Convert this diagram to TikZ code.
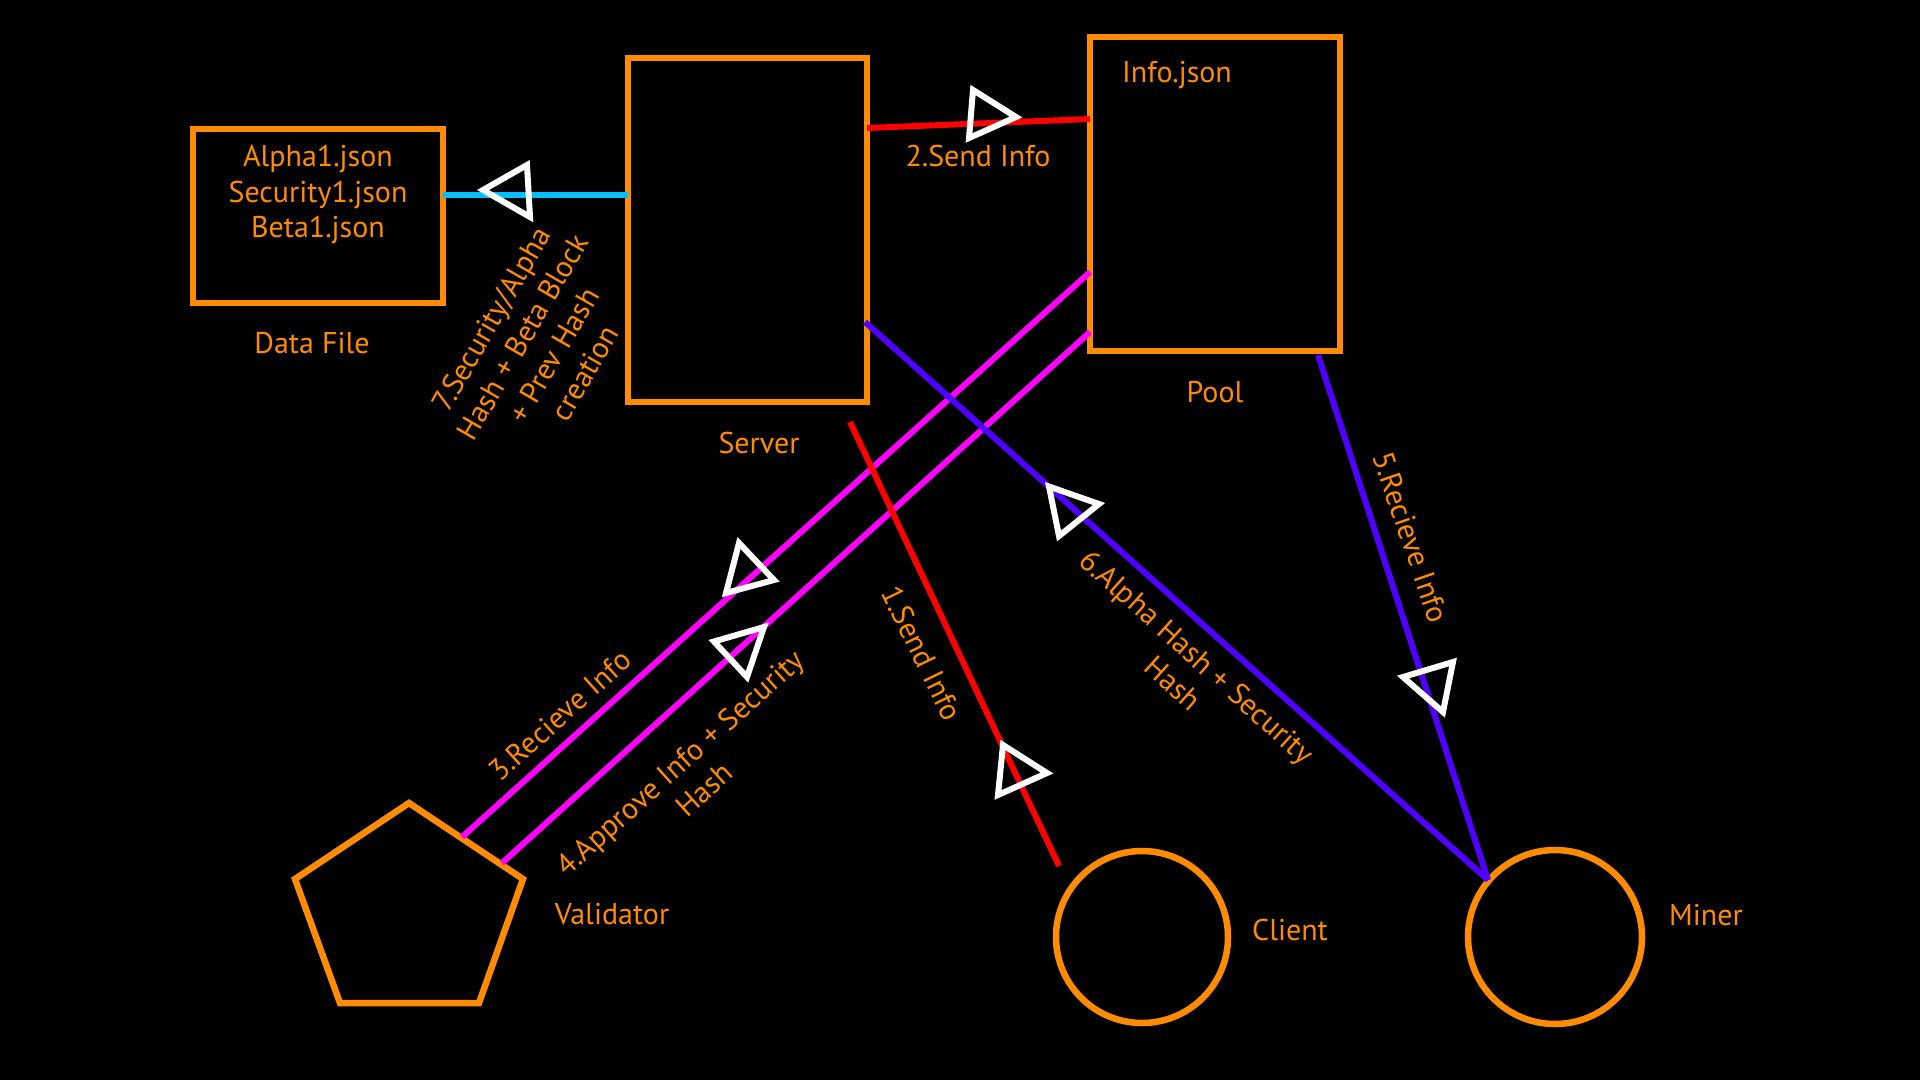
\documentclass[tikz,border=0pt]{standalone}
\usepackage{fontspec}
\setmainfont{PT Sans}
\usetikzlibrary{calc}
\definecolor{ornge}{HTML}{FF8C00}
\definecolor{vblue}{HTML}{5000FF}
\definecolor{mgnta}{HTML}{FF00FF}
\definecolor{cyn}{HTML}{00BFFF}
\definecolor{rd}{HTML}{FF0000}
\begin{document}
\begin{tikzpicture}[x=1pt,y=-1pt,
  shapebox/.style={draw=ornge, line width=6.5pt, fill=none, inner sep=0pt, outer sep=0pt},
  lbl/.style={text=ornge, font=\fontsize{30}{36}\selectfont, inner sep=0pt},
  conn/.style={line width=6pt},
  tri/.style={draw=white, line width=6pt, line join=miter}]
\useasboundingbox (0,0) rectangle (1920,1080);
\fill[black] (0,0) rectangle (1920,1080);

% shapes
\node[shapebox, rectangle, minimum width=250pt, minimum height=174pt] (data) at (318,216) {};
\node[shapebox, rectangle, minimum width=239pt, minimum height=344pt] (server) at (747.5,230) {};
\node[shapebox, rectangle, minimum width=250pt, minimum height=314pt] (pool) at (1215,194) {};
\node[shapebox, circle, minimum size=172pt] (client) at (1142,937) {};
\node[shapebox, circle, minimum size=174pt] (miner) at (1555,937) {};
\coordinate (validator) at (409,913);
\draw[draw=ornge, line width=6.5pt, line join=miter] (409,803) -- (523,879) -- (479,1003) -- (340,1003) -- (295,879) -- cycle;

% connector end points
\coordinate (dataE) at (443,195);
\coordinate (serverW) at (628,195);
\coordinate (serverE1) at (867,128);
\coordinate (poolW1) at (1090,119);
\coordinate (poolW2) at (1090,272);
\coordinate (valA) at (462,837);
\coordinate (poolW3) at (1090,332);
\coordinate (valB) at (502,863);
\coordinate (srvBot) at (850,422);
\coordinate (cliEnd) at (1059,866);
\coordinate (serverE2) at (865,322);
\coordinate (minerTop) at (1488,880);
\coordinate (poolS) at (1318,355);

% connectors
\draw[conn, mgnta] (poolW2) -- (valA);
\draw[conn, mgnta] (poolW3) -- (valB);
\draw[conn, rd] (serverE1) -- (poolW1);
\draw[conn, rd] (srvBot) -- (cliEnd);
\draw[conn, vblue] (serverE2) -- (minerTop);
\draw[conn, vblue] (poolS) -- (minerTop);
\draw[conn, cyn] (dataE) -- (serverW);

% open triangle markers
\draw[tri] (483,190) -- (527,165) -- (530,217) -- cycle;
\draw[tri] (973,90) -- (1016,117) -- (969,138) -- cycle;
\draw[tri] (739,543) -- (774,580) -- (726,593) -- cycle;
\draw[tri] (714,641.5) -- (764,627) -- (747,677) -- cycle;
\draw[tri] (1003,745) -- (1047,773) -- (998,795) -- cycle;
\draw[tri] (1049,486.5) -- (1099,504) -- (1059,536) -- cycle;
\draw[tri] (1403,677) -- (1453,662) -- (1443,712) -- cycle;

% labels
\node[lbl, anchor=base] (dfl1) at (318,166) {Alpha1.json};
\node[lbl, anchor=base] (dfl2) at (318,202) {Security1.json};
\node[lbl, anchor=base] (dfl3) at (318,237) {Beta1.json};
\node[lbl, anchor=base] (datal) at (312,353) {Data File};
\node[lbl, anchor=base] (serverl) at (759,453) {Server};
\node[lbl, anchor=base west] (infol) at (1122,82) {Info.json};
\node[lbl, anchor=base] (sendl2) at (978,166) {2.Send Info};
\node[lbl, anchor=base] (pooll) at (1215,402) {Pool};
\node[lbl, anchor=base] (vall) at (612,924) {Validator};
\node[lbl, anchor=base] (clil) at (1290,940) {Client};
\node[lbl, anchor=base] (minl) at (1706,925) {Miner};
\node[lbl, align=center, rotate=60] (l7) at (538,346) {7.Security/Alpha\\Hash + Beta Block\\+ Prev Hash\\creation};
\node[lbl, rotate=42] (l3) at (560,715) {3.Recieve Info};
\node[lbl, align=center, rotate=42] (l4) at (692,776) {4.Approve Info + Security\\Hash};
\node[lbl, rotate=-64] (l1) at (922,653) {1.Send Info};
\node[lbl, align=center, rotate=-42] (l6) at (1185,670) {6.Alpha Hash + Security\\Hash};
\node[lbl, rotate=-71] (l5) at (1411,537) {5.Recieve Info};
\end{tikzpicture}
\end{document}
